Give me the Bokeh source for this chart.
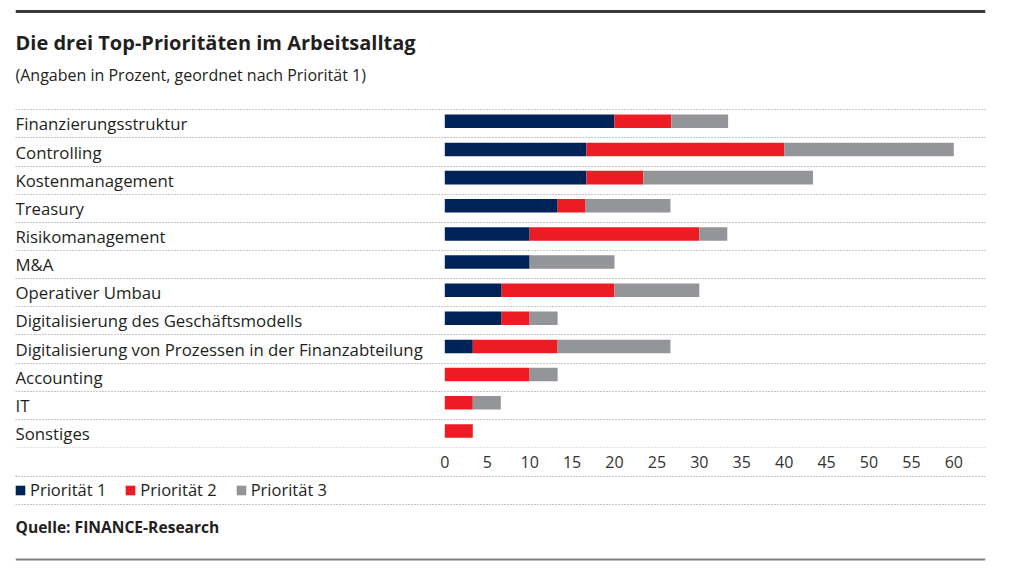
from bokeh.plotting import figure
from bokeh.models import Range1d, FixedTicker, Label, Legend, LegendItem, ColumnDataSource
from bokeh.layouts import column
from bokeh.embed import file_html
from bokeh.resources import INLINE
from bokeh.transform import dodge
from bokeh.core.properties import value

# ---------------- data ----------------
categories = [
    "Finanzierungsstruktur",
    "Controlling",
    "Kostenmanagement",
    "Treasury",
    "Risikomanagement",
    "M&A",
    "Operativer Umbau",
    "Digitalisierung des Geschäftsmodells",
    "Digitalisierung von Prozessen in der Finanzabteilung",
    "Accounting",
    "IT",
    "Sonstiges",
]
prio1 = [20.0, 16.7, 16.7, 13.3, 10.0, 10.0, 6.7, 6.7, 3.3, 0.0, 0.0, 0.0]
prio2 = [6.7, 23.3, 6.7, 3.3, 20.0, 0.0, 13.3, 3.3, 10.0, 10.0, 3.3, 3.3]
prio3 = [6.7, 20.0, 20.0, 10.0, 3.3, 10.0, 10.0, 3.3, 13.3, 3.3, 3.3, 0.0]
series_names = ["Priorität 1", "Priorität 2", "Priorität 3"]
series_colors = ["#002357", "#ed1c24", "#939598"]
x_ticks = [0, 5, 10, 15, 20, 25, 30, 35, 40, 45, 50, 55, 60]
title_text = "Die drei Top-Prioritäten im Arbeitsalltag"
subtitle_text = "(Angaben in Prozent, geordnet nach Priorität 1)"
source_text = "Quelle: FINANCE-Research"

# ---------------- style ----------------
FONT = "Open Sans"
TXT = "#231f20"
DOT = "#8c8c8c"
W = 1000
LEFT, RIGHT = 15, 15
FRAME_W = W - LEFT - RIGHT          # 970 -> frame spans x 15..985
HA, BOTTOM_A = 475, 28
FRAME_HA = HA - BOTTOM_A            # 447 -> frame spans y 0..447
HB = 90

# x scale: zero at frame px 429.3, 60 at frame px 938.3
PX_PER_UNIT = (938.3 - 429.3) / 60.0
X0 = -429.3 / PX_PER_UNIT
X1 = X0 + FRAME_W / PX_PER_UNIT

# y scale (rows, index grows downwards)
N = len(categories)
PITCH = (447.0 - 109.3) / N
Y_TOP = -0.5 - 109.3 / PITCH
Y_BOT = Y_TOP + FRAME_HA / PITCH


def row_of(page_y):
    return -0.5 + (page_y - 109.3) / PITCH


src = ColumnDataSource(dict(
    idx=list(range(N)), cat=categories, p1=prio1, p2=prio2, p3=prio3,
))

pA = figure(width=W, height=HA, x_range=Range1d(X0, X1), y_range=Range1d(Y_BOT, Y_TOP),
            output_backend="svg", toolbar_location=None, y_axis_location=None,
            min_border_left=LEFT, min_border_right=RIGHT, min_border_top=0,
            min_border_bottom=BOTTOM_A)
pA.outline_line_color = None
pA.xgrid.visible = False
pA.ygrid.visible = False

# top rule
pA.hspan(y=[row_of(11.3)], line_color="#3a3a3a", line_width=3)
# row separators
pA.hspan(y=[i - 0.5 for i in range(N + 1)], line_color=DOT, line_width=1, line_dash="1 2")

# stacked bars
pA.hbar_stack(["p1", "p2", "p3"], y=dodge("idx", -0.09), height=0.48,
              color=series_colors, line_color=None, source=src)

# category labels
pA.text(x=X0, y=dodge("idx", 0.0), text="cat", source=src,
        text_font=value(FONT), text_font_size="16.8px", text_color=TXT,
        text_baseline="alphabetic", text_align="left")

pA.add_layout(Label(x=X0, y=row_of(42.0), text=title_text, text_font=FONT,
                    text_font_style="bold", text_font_size="20px", text_color=TXT,
                    text_baseline="alphabetic", text_align="left"))
pA.add_layout(Label(x=X0, y=row_of(74.0), text=subtitle_text, text_font=FONT,
                    text_font_size="16px", text_color=TXT,
                    text_baseline="alphabetic", text_align="left"))

ax = pA.xaxis[0]
ax.ticker = FixedTicker(ticks=x_ticks)
ax.axis_line_color = None
ax.major_tick_line_color = None
ax.minor_tick_line_color = None
ax.major_label_standoff = 2
ax.major_label_text_font = FONT
ax.major_label_text_font_size = "16px"
ax.major_label_text_color = "#333333"

# ---------------- lower strip: legend + source ----------------
pB = figure(width=W, height=HB, x_range=Range1d(0, FRAME_W), y_range=Range1d(HB, 0),
            output_backend="svg", toolbar_location=None,
            x_axis_location=None, y_axis_location=None,
            min_border_left=LEFT, min_border_right=RIGHT, min_border_top=0, min_border_bottom=0)
pB.outline_line_color = None
pB.xgrid.visible = False
pB.ygrid.visible = False

pB.hspan(y=[0.7, 29.0], line_color=DOT, line_width=1, line_dash="1 2")
pB.hspan(y=[84.3], line_color="#808080", line_width=2)

items = []
for name, colr in zip(series_names, series_colors):
    # swatch renderer for the legend only (its single bar lies outside the visible range)
    r = pB.hbar(y=[-1000], left=[0], right=[1], height=1, color=colr, line_color=None)
    items.append(LegendItem(label=name, renderers=[r]))
legend = Legend(items=items, orientation="horizontal", location=(-1, HB - 14 - 12),
                glyph_width=12, glyph_height=12, label_height=12, label_standoff=4,
                spacing=18, padding=0, margin=0, border_line_color=None,
                background_fill_alpha=0, label_text_font=FONT, label_text_font_size="16.5px",
                label_text_color=TXT)
pB.add_layout(legend)

pB.add_layout(Label(x=0, y=51.3, text=source_text, text_font=FONT, text_font_style="bold",
                    text_font_size="15.6px", text_color=TXT, text_baseline="alphabetic",
                    text_align="left"))

layout = column(pA, pB, spacing=0)
open("out.html", "w").write(file_html(layout, INLINE))
